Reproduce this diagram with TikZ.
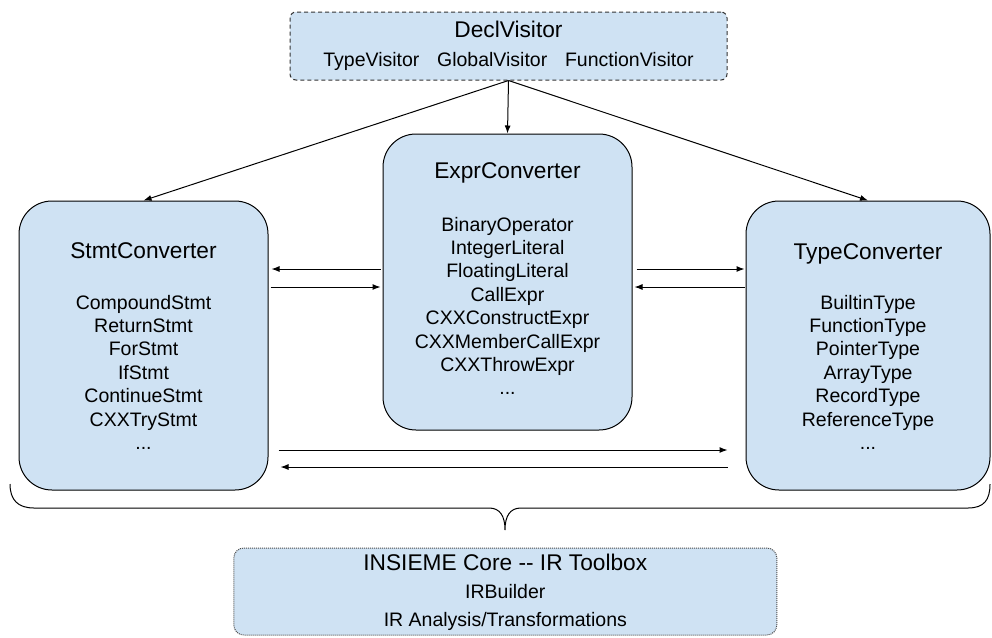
\documentclass[tikz,border=0pt]{standalone}
\usepackage{fontspec}
\setmainfont{Liberation Sans}
\usetikzlibrary{arrows.meta}
\definecolor{boxfill}{HTML}{CFE2F3}
\begin{document}
\begin{tikzpicture}[x=1pt,y=-1pt,
  conv/.style={draw=black, line width=1pt, fill=boxfill, rounded corners=33pt, inner sep=0pt},
  declbox/.style={draw=black!80, line width=1pt, dash pattern=on 4pt off 3pt, fill=boxfill, rounded corners=6pt, inner sep=0pt},
  corebox/.style={draw=black!70, line width=1pt, dash pattern=on 1pt off 1pt, fill=boxfill, rounded corners=10pt, inner sep=0pt},
  ttl/.style={anchor=base, inner sep=0pt, font=\fontsize{22.7}{27}\selectfont},
  itm/.style={anchor=base, inner sep=0pt, align=center, font=\fontsize{19.5}{23.4}\selectfont},
  conn/.style={-{Latex[length=8pt,width=6pt]}, line width=1pt, black}]
\useasboundingbox (0,0) rectangle (992,637);

% boxes
\node[declbox, minimum width=437pt, minimum height=68pt] (decl) at (508.5,46) {};
\node[conv, minimum width=249pt, minimum height=289pt] (stmt) at (143.5,345.5) {};
\node[conv, minimum width=249pt, minimum height=296pt] (expr) at (507.5,282) {};
\node[conv, minimum width=244pt, minimum height=289pt] (type) at (868,345.5) {};
\node[corebox, minimum width=543pt, minimum height=87pt] (core) at (505.3,591.5) {};

% texts (multi-line nodes: base = last line)
\node[ttl] (declt) at (508.5,37.3) {DeclVisitor};
\node[itm] (decli) at (508.5,66.7) {TypeVisitor\hspace{17.7pt}GlobalVisitor\hspace{17.7pt}FunctionVisitor};

\node[ttl] (stmtt) at (143.5,258) {StmtConverter};
\node[itm] (stmti) at (143.5,449.4) {CompoundStmt\\ReturnStmt\\ForStmt\\IfStmt\\ContinueStmt\\CXXTryStmt\\...};

\node[ttl] (exprt) at (507.5,178) {ExprConverter};
\node[itm] (expri) at (507.5,394.8) {BinaryOperator\\IntegerLiteral\\FloatingLiteral\\CallExpr\\CXXConstructExpr\\CXXMemberCallExpr\\CXXThrowExpr\\...};

\node[ttl] (typet) at (868,259) {TypeConverter};
\node[itm] (typei) at (868,449.4) {BuiltinType\\FunctionType\\PointerType\\ArrayType\\RecordType\\ReferenceType\\...};

\node[ttl] (coret) at (505.3,570.5) {INSIEME Core -{}- IR Toolbox};
\node[itm] (corei1) at (505.3,598.7) {IRBuilder};
\node[itm] (corei2) at (505.3,626.7) {IR Analysis/Transformations};

% connectors from DeclVisitor
\draw[conn] (decl.south) -- (stmt.north);
\draw[conn] (decl.south) -- (expr.north);
\draw[conn] (decl.south) -- (type.north);

\coordinate (ya) at (0,269);
\coordinate (yb) at (0,287);
\coordinate (yc) at (0,450);
\coordinate (yd) at (0,467);

\draw[conn, shorten <=2pt, shorten >=3pt] (expr.west |- ya) -- (stmt.east |- ya);
\draw[conn, shorten <=2pt, shorten >=2pt] (stmt.east |- yb) -- (expr.west |- yb);
\draw[conn, shorten <=4pt, shorten >=1pt] (expr.east |- ya) -- (type.west |- ya);
\draw[conn, shorten <=1pt, shorten >=2pt] (type.west |- yb) -- (expr.east |- yb);
\draw[conn, shorten <=10pt, shorten >=18pt] (stmt.east |- yc) -- (type.west |- yc);
\draw[conn, shorten <=18pt, shorten >=12pt] (type.west |- yd) -- (stmt.east |- yd);

% brace
\draw[line width=1pt, black] (10,484) .. controls (10,500) and (18,508) .. (34,508) -- (489,508)
  .. controls (500,508) and (505,516) .. (505,530)
  .. controls (505,516) and (510,508) .. (521,508) -- (968,508)
  .. controls (984,508) and (990,500) .. (990,484);
\end{tikzpicture}
\end{document}
